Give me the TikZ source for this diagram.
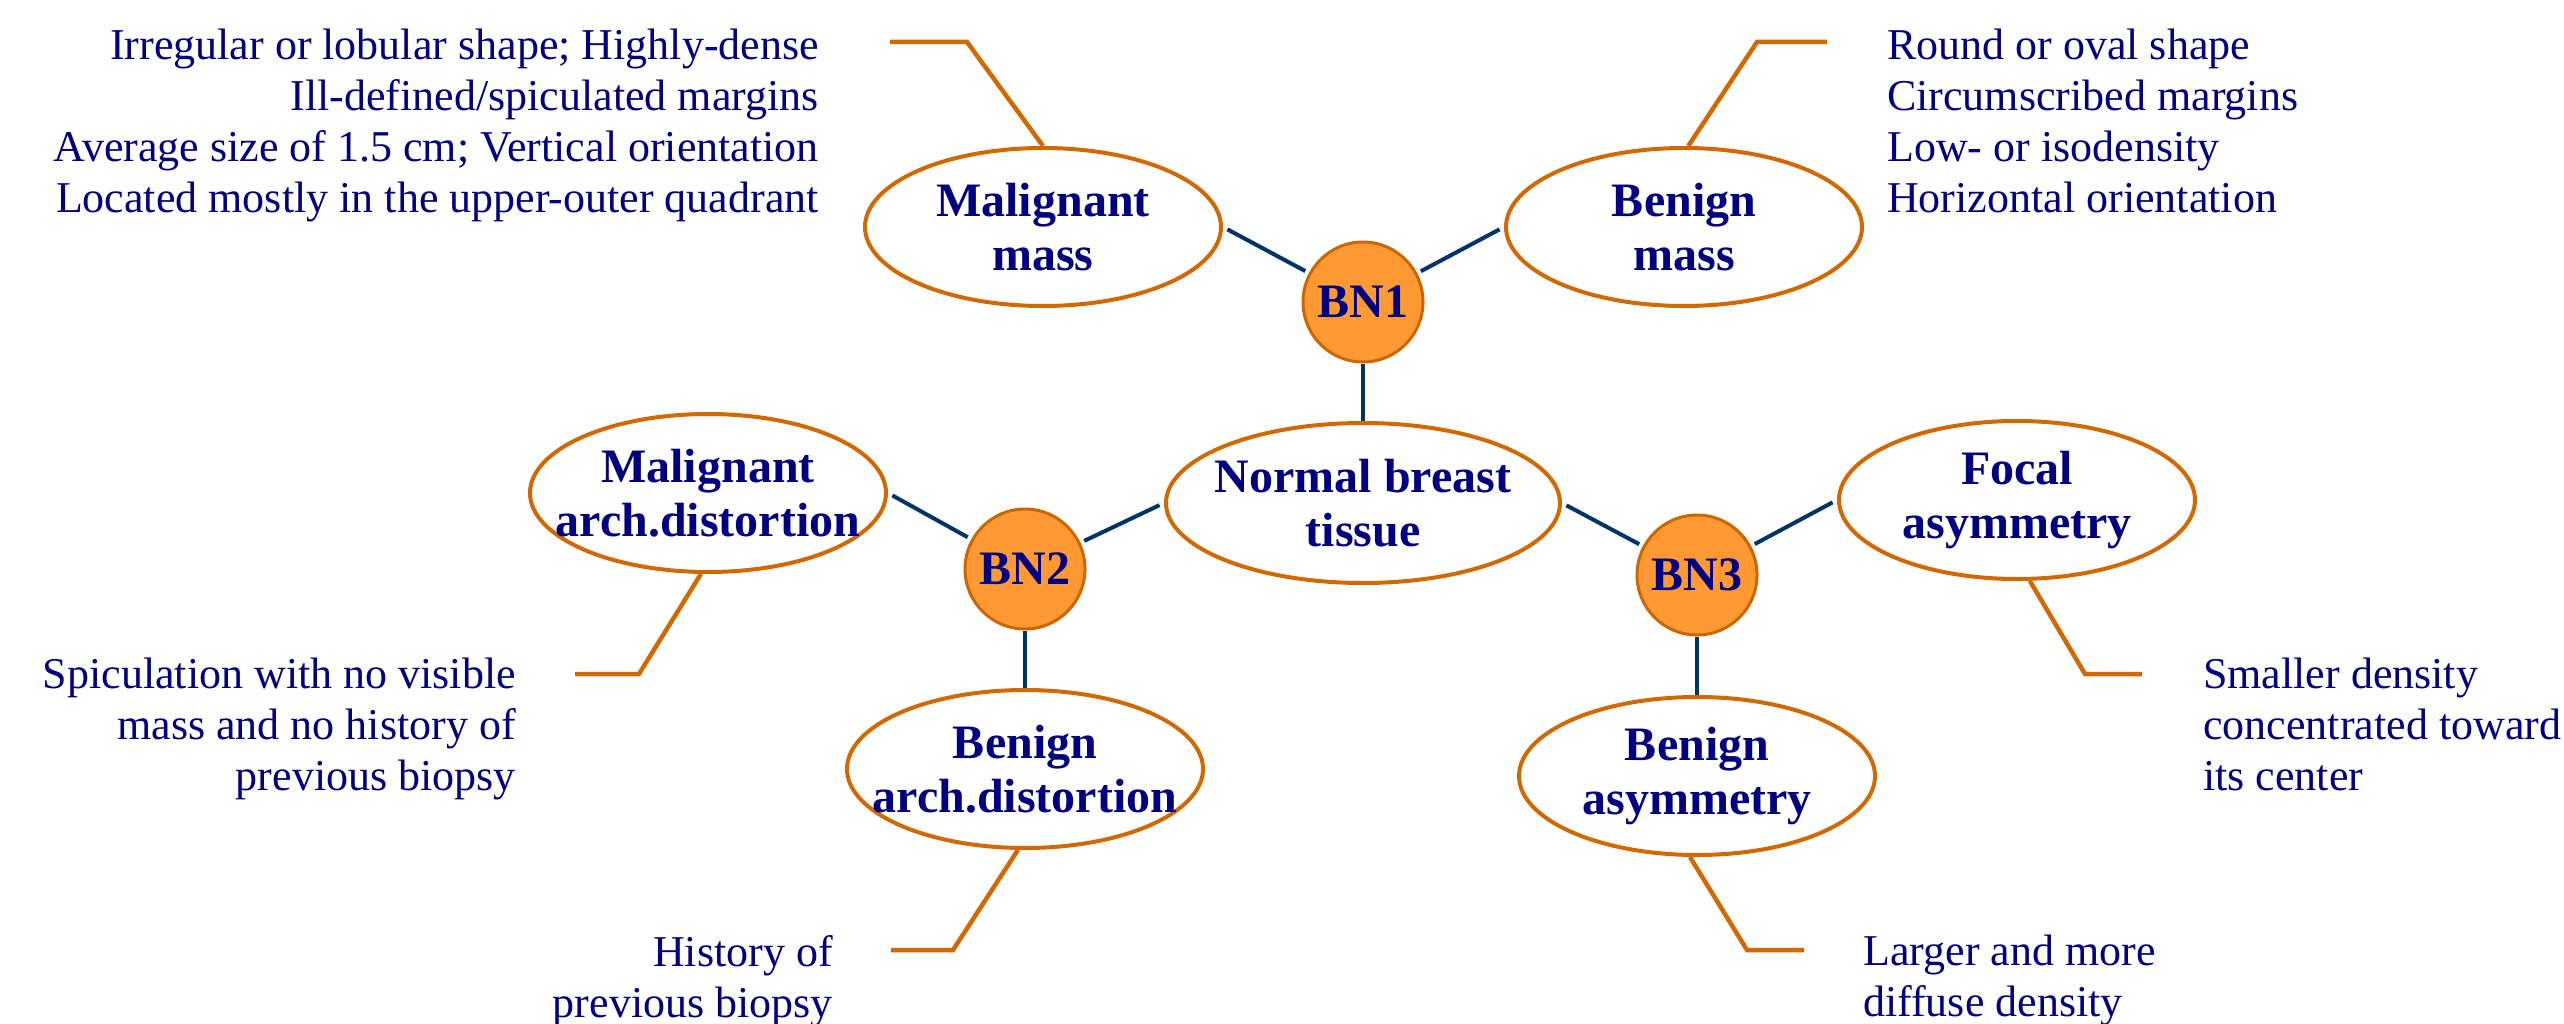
\documentclass[tikz,border=0pt]{standalone}
\usepackage{fontspec}
\setmainfont{Liberation Serif}
\usetikzlibrary{shapes.geometric}
\definecolor{navy}{RGB}{0,0,128}
\definecolor{orline}{RGB}{210,105,0}
\definecolor{bnfill}{RGB}{255,153,51}
\definecolor{bnline}{RGB}{204,102,0}
\definecolor{connc}{RGB}{0,51,102}
\tikzset{
  ell/.style={ellipse, draw=orline, line width=4pt, fill=white, minimum width=356pt, minimum height=158pt, inner sep=0pt},
  bnnode/.style={circle, draw=bnline, fill=bnfill, line width=3pt, minimum size=120pt, inner sep=0pt, font=\fontsize{48}{54}\selectfont\bfseries, text=navy},
  lbl/.style={font=\fontsize{48}{54}\selectfont\bfseries, text=navy, align=center, inner sep=0pt},
  desc/.style={font=\fontsize{44}{51}\selectfont, text=navy, inner sep=0pt},
  conn/.style={draw=connc, line width=4pt, shorten <=5pt, shorten >=4pt},
  callout/.style={draw=orline, line width=4.5pt}
}
\begin{document}
\begin{tikzpicture}[x=1pt,y=-1pt]
\useasboundingbox (0,0) rectangle (2564,1024);
% ellipses
\node[ell] (mm) at (1043,227) {};
\node[ell] (bm) at (1684,227) {};
\node[ell, minimum width=394pt, minimum height=160pt] (nt) at (1363,503) {};
\node[ell] (mad) at (708,493) {};
\node[ell] (bad) at (1025,769) {};
\node[ell] (fa) at (2017,500) {};
\node[ell] (ba) at (1697,776) {};
% labels
\node[lbl] (mmt) at (mm) {Malignant\\mass};
\node[lbl] (bmt) at (bm) {Benign\\mass};
\node[lbl] (ntt) at (nt) {Normal breast\\tissue};
\node[lbl] (madt) at (mad) {Malignant\\arch.distortion};
\node[lbl] (badt) at (bad) {Benign\\arch.distortion};
\node[lbl] (fat) at (fa) {Focal\\asymmetry};
\node[lbl] (bat) at (ba) {Benign\\asymmetry};
% BN nodes
\node[bnnode] (bn1) at (1363,302) {BN1};
\node[bnnode] (bn2) at (1025,569) {BN2};
\node[bnnode] (bn3) at (1697,575) {BN3};
% connectors
\draw[conn] (mm.east) -- (bn1);
\draw[conn] (bm.west) -- (bn1);
\draw[conn, shorten <=0pt, shorten >=0pt] (bn1.south) -- (nt.north);
\draw[conn] (mad.east) -- (bn2);
\draw[conn] (nt.west) -- (bn2);
\draw[conn, shorten <=0pt, shorten >=0pt] (bn2.south) -- (bad.north);
\draw[conn] (nt.east) -- (bn3);
\draw[conn] (fa.west) -- (bn3);
\draw[conn, shorten <=0pt, shorten >=0pt] (bn3.south) -- (ba.north);
% callout coordinates
\coordinate (c1a) at (967,42);  \coordinate (c1b) at (890,42);
\coordinate (c2a) at (1757,42); \coordinate (c2b) at (1827,42);
\coordinate (c3a) at (639,674); \coordinate (c3b) at (575,674);
\coordinate (c4a) at (953,950); \coordinate (c4b) at (891,950);
\coordinate (c5a) at (2085,674); \coordinate (c5b) at (2142,674);
\coordinate (c6a) at (1747,950); \coordinate (c6b) at (1804,950);
\draw[callout] (mm.north) -- (c1a) -- (c1b);
\draw[callout] (bm.87) -- (c2a) -- (c2b);
\draw[callout] (mad.-95) -- (c3a) -- (c3b);
\draw[callout] (bad.-95) -- (c4a) -- (c4b);
\draw[callout] (fa.-81) -- (c5a) -- (c5b);
\draw[callout] (ba.-95) -- (c6a) -- (c6b);
% descriptions
\node[desc, align=right, anchor=north east] (d1) at (819,29) {Irregular or lobular shape; Highly-dense\\Ill-defined/spiculated margins\\Average size of 1.5 cm; Vertical orientation\\Located mostly in the upper-outer quadrant};
\node[desc, align=left, anchor=north west] (d2) at (1887,29) {Round or oval shape\\Circumscribed margins\\Low- or isodensity\\Horizontal orientation};
\node[desc, align=right, anchor=north east] (d3) at (516,658) {Spiculation with no visible\\mass and no history of\\previous biopsy};
\node[desc, align=right, anchor=north east] (d4) at (833,935) {History of\\previous biopsy};
\node[desc, align=left, anchor=north west] (d5) at (2203,658) {Smaller density\\concentrated toward\\its center};
\node[desc, align=left, anchor=north west] (d6) at (1863,935) {Larger and more\\diffuse density};
\end{tikzpicture}
\end{document}
